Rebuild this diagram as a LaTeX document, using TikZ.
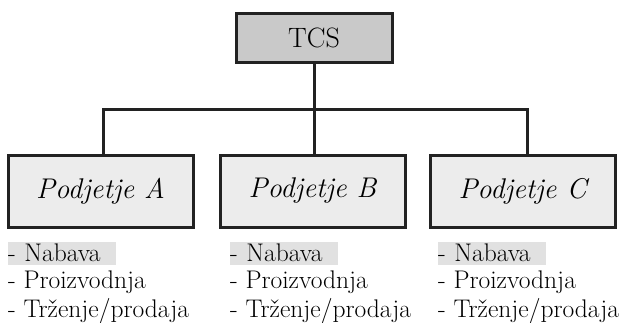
\documentclass[tikz,border=0pt]{standalone}
\usepackage{tikz}
\usetikzlibrary{positioning}

\definecolor{topgray}{HTML}{C9C9C9}
\definecolor{unitgray}{HTML}{ECECEC}
\definecolor{hlgray}{HTML}{E1E1E1}
\definecolor{linedark}{HTML}{222222}

\tikzset{
  topbox/.style={draw=linedark,line width=3pt,fill=topgray,minimum width=156pt,minimum height=49pt,inner sep=0pt,font=\fontsize{28}{30}\selectfont},
  unitbox/.style={draw=linedark,line width=3pt,fill=unitgray,minimum width=185pt,minimum height=72pt,inner sep=0pt,font=\fontsize{28.5}{32}\selectfont\itshape},
  conn/.style={draw=linedark,line width=3pt},
  item/.style={inner sep=0pt,font=\fontsize{25.5}{28}\selectfont},
  hl/.style={item,fill=hlgray,text width=108pt,minimum height=23pt,align=left,text depth=2pt}
}

\begin{document}
\begin{tikzpicture}[x=1pt,y=-1pt]
\useasboundingbox (0,0) rectangle (624,322);
% ---- vrh ----
\node[topbox] (tcs) at (314,37.5) {TCS};
% ---- podjetja ----
\node[unitbox] (pa) at (100.5,191) {Podjetje A};
\node[unitbox] (pb) at (312.5,191) {Podjetje B};
\node[unitbox] (pc) at (522.5,191) {Podjetje C};
% ---- povezave ----
\coordinate (bus) at (314,109);
\draw[conn] (tcs.south) -- (bus);
\draw[conn] (pa.north -| 103,0) |- (bus) -| (pc.north -| 527,0);
\draw[conn] (bus) -- (bus |- pb.north);
% ---- seznami ----
\node[hl,anchor=north west] (nabA) at (8,242) {- Nabava};
\node[item,anchor=base west] (proA) at (8,288) {- Proizvodnja};
\node[item,anchor=base west] (trzA) at (8,317) {- Trženje/prodaja};
\node[hl,anchor=north west] (nabB) at (230,242) {- Nabava};
\node[item,anchor=base west] (proB) at (230,288) {- Proizvodnja};
\node[item,anchor=base west] (trzB) at (230,317) {- Trženje/prodaja};
\node[hl,anchor=north west] (nabC) at (438,242) {- Nabava};
\node[item,anchor=base west] (proC) at (438,288) {- Proizvodnja};
\node[item,anchor=base west] (trzC) at (438,317) {- Trženje/prodaja};
\end{tikzpicture}
\end{document}
